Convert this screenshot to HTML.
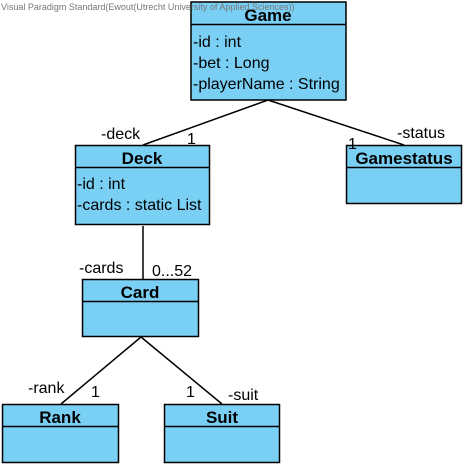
<!DOCTYPE html>
<html><head><meta charset="utf-8"><style>
html,body{margin:0;padding:0;background:#fff;width:467px;height:468px;overflow:hidden}
svg{display:block}
text{font-family:"Liberation Sans",sans-serif}
.b{font-weight:bold;font-size:17px}
.a{font-size:16px}
.l{font-size:16px}
</style></head><body>
<svg width="467" height="468" xmlns="http://www.w3.org/2000/svg">
<g stroke="#000" stroke-width="1.5" fill="none">
<line x1="268" y1="100" x2="143" y2="145"/>
<line x1="268" y1="100" x2="404" y2="145"/>
<line x1="143" y1="226" x2="143" y2="279"/>
<line x1="141" y1="337" x2="61" y2="404"/>
<line x1="141" y1="337" x2="222" y2="404"/>
</g>
<g fill="#7acff5" stroke="#000" stroke-width="1.5">
<rect x="191" y="2" width="155" height="98"/>
<rect x="75.5" y="145.5" width="134" height="79"/>
<rect x="346.5" y="145.5" width="115" height="58"/>
<rect x="82.5" y="279.5" width="116" height="57"/>
<rect x="2.5" y="404.5" width="116" height="58"/>
<rect x="164.5" y="404.5" width="115" height="58"/>
</g>
<g stroke="#000" stroke-width="1.5">
<line x1="191" y1="24.5" x2="346" y2="24.5"/>
<line x1="75.5" y1="167.5" x2="209.5" y2="167.5"/>
<line x1="346.5" y1="167.5" x2="461.5" y2="167.5"/>
<line x1="82.5" y1="301.5" x2="198.5" y2="301.5"/>
<line x1="2.5" y1="426.5" x2="118.5" y2="426.5"/>
<line x1="164.5" y1="426.5" x2="279.5" y2="426.5"/>
</g>
<text x="1" y="10" fill="#777" style="font-size:9px">Visual Paradigm Standard(Ewout(Utrecht University of Applied Sciences))</text>
<text class="b" x="268" y="21" text-anchor="middle">Game</text>
<text class="a" x="193" y="47">-id : int</text>
<text class="a" x="193" y="68">-bet : Long</text>
<text class="a" x="193" y="89">-playerName : String</text>
<text class="b" x="142" y="164" text-anchor="middle">Deck</text>
<text class="a" x="77" y="189">-id : int</text>
<text class="a" x="77" y="210">-cards : static List</text>
<text class="b" x="404" y="164" text-anchor="middle">Gamestatus</text>
<text class="b" x="140" y="298" text-anchor="middle">Card</text>
<text class="b" x="60" y="423" text-anchor="middle">Rank</text>
<text class="b" x="222" y="423" text-anchor="middle">Suit</text>
<text class="l" x="101" y="139">-deck</text>
<text class="l" x="187" y="144">1</text>
<text class="l" x="348" y="149">1</text>
<text class="l" x="397" y="138">-status</text>
<text class="l" x="79" y="273">-cards</text>
<text class="l" x="152" y="276">0...52</text>
<text class="l" x="28" y="393">-rank</text>
<text class="l" x="91" y="397">1</text>
<text class="l" x="186" y="397">1</text>
<text class="l" x="228" y="400">-suit</text>
</svg>
</body></html>
